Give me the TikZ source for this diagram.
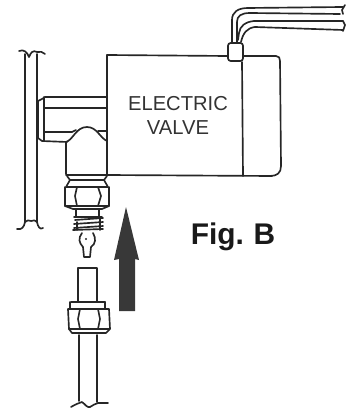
\documentclass[tikz,border=0pt]{standalone}
\usepackage{fontspec}
\setmainfont{Liberation Sans}
\newcommand{\px}{0.0264583cm}
\tikzset{
  x=\px, y=-\px,
  ln/.style={line width=1.25pt, color=black!85, line join=round, line cap=round},
  lab/.style={font=\fontsize{15.2pt}{18pt}\selectfont, text=black!80, inner sep=0pt, align=center},
  fig/.style={font=\bfseries\fontsize{22.5pt}{26pt}\selectfont, text=black!90, inner sep=0pt}
}
\begin{document}
\begin{tikzpicture}
\useasboundingbox (0,0) rectangle (353,408);
% left pipe
\draw[ln] (25,54) -- (25,222);
\draw[ln] (37,54) -- (37,222);
\draw[ln] (19,51) .. controls (24,49) and (27,52) .. (29,57) .. controls (31,52) and (33,50) .. (37,52) .. controls (40,51) and (43,52) .. (45,54);
\draw[ln] (17,229) .. controls (22,230) and (24,227) .. (25,222) .. controls (27,220) and (29,220) .. (31,221) .. controls (33,220) and (36,220) .. (37,222) .. controls (38,227) and (40,230) .. (43,228);
% pipe collar
\draw[ln] (38,101) -- (42,99) -- (45,97) -- (107,97);
\draw[ln] (38,138) -- (42,141) -- (67,142);
\draw[ln] (38,101) -- (38,138);
\draw[ln] (44,97) -- (44,141);
\draw[ln] (45,108) -- (107,108);
\draw[ln] (45,132) -- (72,132) -- (76,130);
% body
\draw[ln] (107,55) -- (227,56);
\draw[ln] (107,55) -- (107,175);
\draw[ln] (66,174) -- (66,142) .. controls (73,140) and (76,127) .. (87,127) .. controls (97,127) and (100,138) .. (107,141);
\draw[ln] (98,131) -- (107,131);
\draw[ln] (66,175) -- (107,175);
\draw[ln] (107,175) -- (272,176);
\draw[ln] (243,56) -- (276,56) .. controls (279,56) and (280,58) .. (280,61) -- (281,166) .. controls (281,173) and (277,176) .. (270,176);
\draw[ln] (242,62) -- (243,176);
% wire box
\draw[ln, rounded corners=2pt] (228,43) rectangle (243,61);
% wires
\draw[ln] (232,43) -- (232,20) .. controls (232,12) and (238,8) .. (248,8) -- (343,7);
\draw[ln] (237,43) -- (237,22) .. controls (237,16) and (241,13) .. (250,13) -- (340,14);
\draw[ln] (238,40) -- (239,33) .. controls (240,26) and (245,22) .. (254,21) -- (343,21);
\draw[ln] (241,42) .. controls (243,33) and (247,28) .. (255,27) -- (343,30);
\draw[ln] (345,5) -- (342,10) -- (343,14);
\draw[ln] (343,21) -- (345,25) -- (343,31);
% upper nut
\draw[ln] (67,176) -- (70,180) -- (104,180) -- (107,176);
\draw[ln] (70,180) -- (66,187) -- (108,187) -- (104,180);
\draw[ln] (65,187) -- (65,206) -- (109,206) -- (109,187);
\draw[ln] (65,206) -- (73,209) -- (102,209) -- (109,206);
\draw[ln] (77,187) -- (75,196) -- (77,206) -- (98,206) -- (101,196) -- (98,187);
% thread
\draw[ln] (76,209) -- (76,216);
\draw[ln] (99,209) -- (99,216);
\draw[ln] (74,217) -- (102,217);
\draw[ln] (75,220) -- (103,218);
\draw[ln] (74,224) -- (103,222);
\draw[ln] (74,228) -- (103,226);
\draw[ln] (73,230) -- (103,229);
\draw[ln] (77,222) -- (77,230);
\draw[ln] (100,219) -- (100,230);
% tip
\draw[ln] (82,233) .. controls (78,238) and (79,243) .. (83,247) -- (84,257) -- (90,257) -- (91,247) .. controls (96,244) and (96,238) .. (93,233);
\fill[black!85] (86,239) circle (1.1);
% lower tube
\draw[ln] (78,302) -- (78,268) -- (97,268) -- (97,302);
% lower nut
\draw[ln] (71,302) -- (105,302);
\draw[ln] (70,302) -- (70,308);
\draw[ln] (105,302) -- (105,308);
\draw[ln] (68,309) -- (109,309) -- (110,329) -- (106,333) -- (72,333) -- (69,329) -- cycle;
\draw[ln] (69,329) -- (109,329);
\draw[ln] (80,309) -- (78,319) -- (80,329);
\draw[ln] (98,309) -- (100,319) -- (98,329);
% lower pipe
\draw[ln] (79,335) -- (79,401);
\draw[ln] (97,335) -- (97,402);
\draw[ln] (71,407) .. controls (76,404) and (79,403) .. (82,402) .. controls (85,404) and (87,408) .. (90,407) .. controls (93,406) and (95,403) .. (98,403) -- (108,403);
% arrow
\fill[black!78] (119,311) -- (119,259) -- (114,260) -- (126,207) -- (139,260) -- (135,259) -- (135,311) -- cycle;
% text
\node[lab] (a) at (178,104) {ELECTRIC};
\node[lab] (b) at (178,128) {VALVE};
\node[fig] (c) at (233,237) {Fig.\hspace{-1pt} B};
\end{tikzpicture}
\end{document}
